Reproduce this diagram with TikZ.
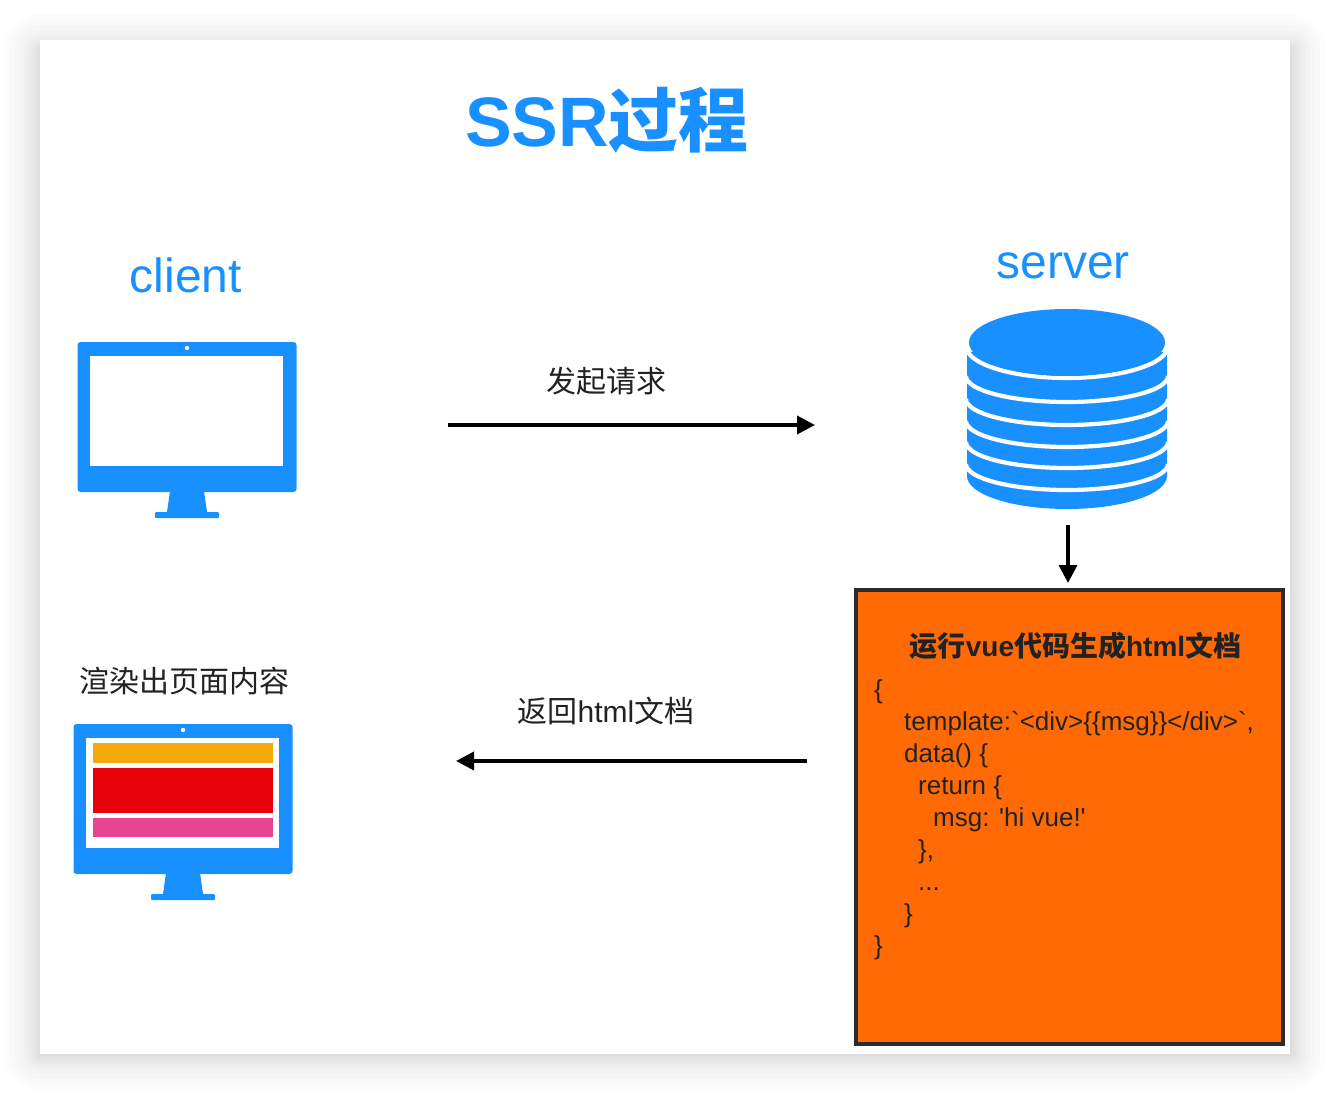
\documentclass[tikz,border=0pt]{standalone}
\usepackage{fontspec}
\setmainfont[Ligatures=TeXOff]{Liberation Sans}
\newfontfamily\cjk{Noto Sans CJK SC}
\usetikzlibrary{arrows.meta}
\definecolor{brandblue}{HTML}{1890FF}
\definecolor{boxorange}{HTML}{FF6A04}
\definecolor{boxedge}{HTML}{2B2B2B}
\definecolor{textdark}{HTML}{222222}
\definecolor{baramber}{HTML}{F5A90A}
\definecolor{barred}{HTML}{E60208}
\definecolor{barpink}{HTML}{E94494}
\tikzset{
  x=1pt,y=-1pt,
  flowarrow/.style={line width=3.6pt,draw=black,-{Triangle[length=18pt,width=18pt]}},
  bluelabel/.style={text=brandblue,font=\fontsize{48}{52}\selectfont,inner sep=0pt},
  cnlabel/.style={text=textdark,font=\fontsize{30}{34}\selectfont,inner sep=0pt},
  ringline/.style={draw=white,line width=4.2pt},
  monitor/.pic={
    \fill[brandblue,rounded corners=3pt] (0,0) rectangle (219,150);
    \fill[white] (12.5,14) rectangle (205.5,124);
    \fill[white] (109.5,6) circle (2.2);
    \fill[brandblue] (92.5,149) -- (126.5,149) -- (129.5,170) -- (89.5,170) -- cycle;
    \fill[brandblue,rounded corners=1pt] (77.5,170) rectangle (141.5,176);
  }
}
\begin{document}
\begin{tikzpicture}
\useasboundingbox (0,0) rectangle (1330,1094);
% page shadow
\foreach \s in {2,4,6,8,10,13,16,20,25,30,36}{
  \fill[black,opacity=0.011,rounded corners=\s pt] (40-\s,40-\s+10) rectangle (1290+\s,1054+\s);
}
\fill[white] (40,40) rectangle (1290,1054);

% title
\node[anchor=base,inner sep=0pt,text=brandblue,font=\fontsize{70}{74}\selectfont\bfseries] (title) at (607,147) {SSR\cjk 过程};

% client
\node[bluelabel,anchor=base] (clientlabel) at (186,292) {client};
\pic at (77.5,342) {monitor};

% server
\node[bluelabel,anchor=base] (serverlabel) at (1063,278) {server};
\fill[brandblue] (967,352) -- (967,476) arc[start angle=180,end angle=0,x radius=100,y radius=33] -- (1167,352) -- cycle;
\foreach \y in {402,425,447,468,490}{
  \draw[ringline] (966,\y-26) arc[start angle=180,end angle=0,x radius=101,y radius=26];
}
\draw[ringline] (966,346) arc[start angle=180,end angle=0,x radius=101,y radius=32];
\fill[brandblue] (1067,342.5) ellipse[x radius=98,y radius=33.5];

% rendered result
\node[cnlabel,anchor=base] (resultlabel) at (184,692) {\cjk 渲染出页面内容};
\pic at (73.5,724) {monitor};
\fill[baramber] (93,743) rectangle (273,763);
\fill[barred] (93,768) rectangle (273,813);
\fill[barpink] (93,818) rectangle (273,837);

% orange box
\node[draw=boxedge,fill=boxorange,line width=4pt,minimum width=427pt,minimum height=454pt,inner sep=0pt] (codebox) at (1069.5,817) {};
\node[anchor=base,inner sep=0pt,text=textdark,font=\fontsize{28}{32}\selectfont\bfseries] (boxtitle) at (1075.5,656) {\cjk 运行{\rmfamily vue}代码生成{\rmfamily html}文档};
\node[anchor=north west,inner sep=0pt,text=textdark,align=left,font=\fontsize{26}{32}\selectfont] (code) at (874,679) {%
\{\\
\hspace*{30pt}template:`<div>\{\{msg\}\}</div>`,\\
\hspace*{30pt}data() \{\\
\hspace*{44pt}return \{\\
\hspace*{59pt}msg: 'hi vue!'\\
\hspace*{44pt}\},\\
\hspace*{44pt}...\\
\hspace*{30pt}\}\\
\}};

% labels and arrows
\node[cnlabel,anchor=base] (reqlabel) at (606,392) {\cjk 发起请求};
\node[cnlabel,anchor=base] (resplabel) at (606,722) {\cjk 返回{\rmfamily html}文档};
\coordinate (reqstart) at (448,425);
\coordinate (reqend) at (815,425);
\coordinate (renderstart) at (1068,525);
\coordinate (renderend) at (1068,583);
\coordinate (respstart) at (807,761);
\coordinate (respend) at (456,761);
\draw[flowarrow] (reqstart) -- (reqend);
\draw[flowarrow] (renderstart) -- (renderend);
\draw[flowarrow] (respstart) -- (respend);
\end{tikzpicture}
\end{document}
